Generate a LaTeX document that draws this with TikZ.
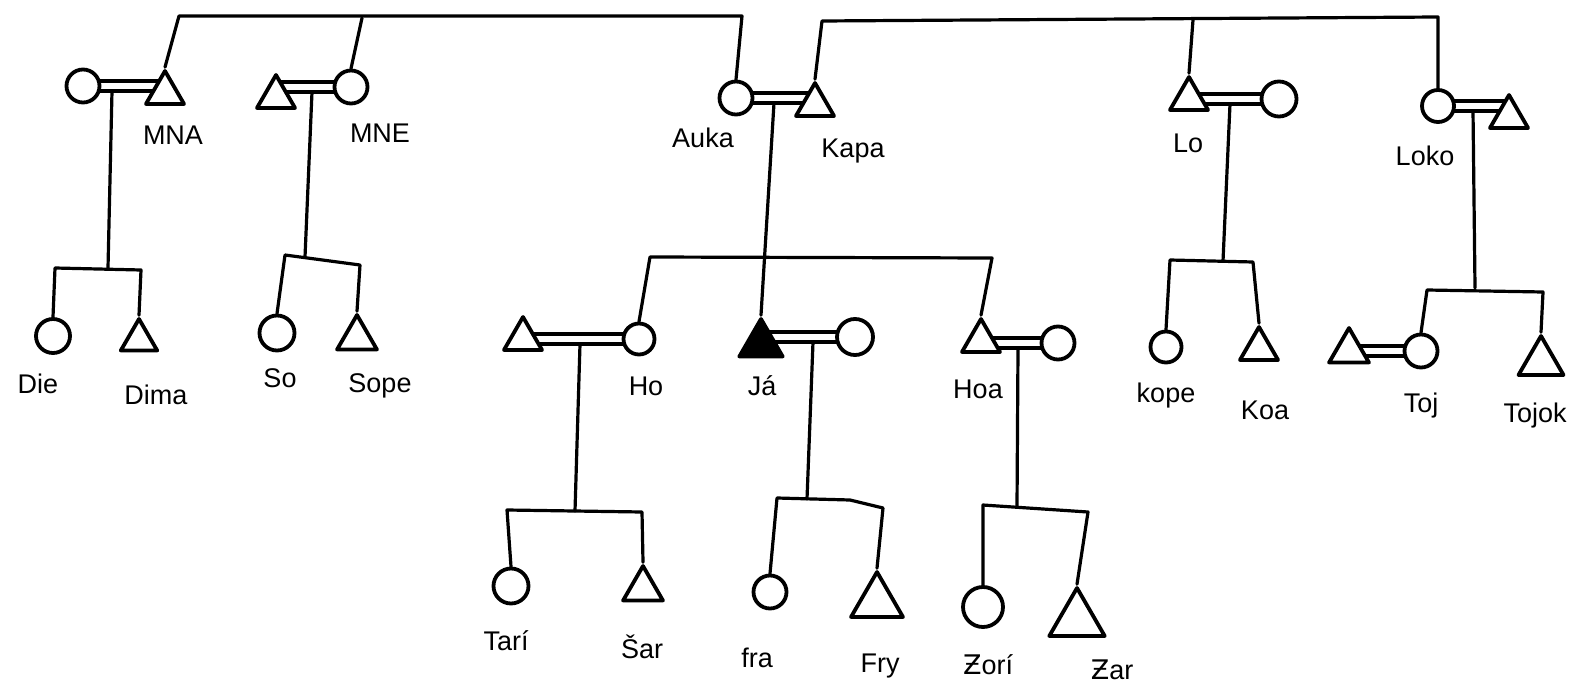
\documentclass[tikz,border=0pt]{standalone}
\usepackage{fontspec}
\setmainfont{Liberation Sans}
\newfontfamily\djv{DejaVu Sans}
\usetikzlibrary{shapes.geometric,calc,backgrounds}
\newcommand\Zs{{\djv Ƶ}}
\newcommand\marr[2]{%
  \draw[ln] ($(#1.center)+(0,-5)$) -- ($(#1.center -| #2.center)+(0,-5)$);
  \draw[ln] ($(#1.center)+(0,5)$) -- ($(#1.center -| #2.center)+(0,5)$);}
\tikzset{
  fem/.style={circle, draw, line width=3.8pt, fill=white, minimum size=#1, inner sep=0pt},
  fem/.default=33,
  male/.style={regular polygon, regular polygon sides=3, draw, line width=3.8pt, line join=round, fill=white, minimum size=#1, inner sep=0pt},
  male/.default=44,
  ego/.style={male=50, fill=black},
  lbl/.style={font=\fontsize{27}{29}\selectfont, inner sep=0pt, anchor=base},
  ln/.style={line width=3.2pt, line cap=round, line join=round}
}
\begin{document}
\begin{tikzpicture}[x=1pt,y=-1pt]
\useasboundingbox (0,0) rectangle (1573,687);
% row 1
\node[fem] (w1) at (83,86) {};
\node[male] (MNA) at (165,93) {};
\node[male] (h2) at (276,97) {};
\node[fem] (MNE) at (351,87) {};
\node[fem] (Auka) at (736,98) {};
\node[male] (Kapa) at (815,105) {};
\node[male] (Lo) at (1189,99) {};
\node[fem=35] (w4) at (1279,99) {};
\node[fem=32] (Loko) at (1438,106) {};
\node[male] (h5) at (1509,117) {};
% row 2
\node[fem=34] (Die) at (53,336) {};
\node[male=42] (Dima) at (139,340) {};
\node[fem=35] (So) at (277,333) {};
\node[male=46] (Sope) at (357,338) {};
\node[male=44] (h6) at (523,339) {};
\node[fem=31] (Ho) at (639,339) {};
\node[ego] (Ja) at (761,344) {};
\node[fem=36] (w7) at (855,337) {};
\node[male=44] (Hoa) at (981,341) {};
\node[fem=33] (w8) at (1058,343) {};
\node[fem=31] (kope) at (1166,347) {};
\node[male=44] (Koa) at (1259,349) {};
\node[male=46] (h9) at (1349,351) {};
\node[fem=33] (Toj) at (1421,351) {};
\node[male=52] (Tojok) at (1541,362) {};
% row 3
\node[fem=35] (Tari) at (511,586) {};
\node[male=46] (Sar) at (643,589) {};
\node[fem=33] (Fra) at (770,592) {};
\node[male=60] (Fry) at (877,602) {};
\node[fem=40] (Zori) at (983,607) {};
\node[male=64] (Zar) at (1077,620) {};
% labels
\node[lbl] (lMNA) at (173,145) {MNA};
\node[lbl] (lMNE) at (380,143) {MNE};
\node[lbl] (lAuka) at (703,148) {Auka};
\node[lbl] (lKapa) at (853,158) {Kapa};
\node[lbl] (lLo) at (1188,153) {Lo};
\node[lbl] (lLoko) at (1425,166) {Loko};
\node[lbl] (lDie) at (38,393) {Die};
\node[lbl] (lDima) at (156,404) {Dima};
\node[lbl] (lSo) at (280,387) {So};
\node[lbl] (lSope) at (380,392) {Sope};
\node[lbl] (lHo) at (646,395) {Ho};
\node[lbl] (lJa) at (762,395) {Já};
\node[lbl] (lHoa) at (978,398) {Hoa};
\node[lbl] (lkope) at (1166,402) {kope};
\node[lbl] (lKoa) at (1265,419) {Koa};
\node[lbl] (lToj) at (1421,412) {Toj};
\node[lbl] (lTojok) at (1535,422) {Tojok};
\node[lbl] (lTari) at (506,650) {Tarí};
\node[lbl] (lSar) at (642,658) {Šar};
\node[lbl] (lFra) at (757,667) {fra};
\node[lbl] (lFry) at (880,672) {Fry};
\node[lbl] (lZori) at (988,674) {\Zs orí};
\node[lbl] (lZar) at (1112,679) {\Zs ar};
% coordinates
\coordinate (t1L) at (179,16); \coordinate (t1R) at (742,16); \coordinate (t1m) at (362,18);
\coordinate (t2L) at (822,21); \coordinate (t2R) at (1438,17); \coordinate (t2m) at (1193,20);
\coordinate (d1) at (112,91); \coordinate (k1m) at (108,268); \coordinate (k1L) at (55,268); \coordinate (k1R) at (141,270);
\coordinate (d2) at (312,92); \coordinate (k2m) at (305,257); \coordinate (k2L) at (285,255); \coordinate (k2R) at (360,265);
\coordinate (d3) at (774,103);
\coordinate (mL) at (650,257); \coordinate (mR) at (992,258);
\coordinate (d4) at (1230,104); \coordinate (k4m) at (1223,261); \coordinate (k4L) at (1170,260); \coordinate (k4R) at (1253,262);
\coordinate (d5) at (1473,111); \coordinate (k5m) at (1475,288); \coordinate (k5L) at (1427,290); \coordinate (k5R) at (1543,292);
\coordinate (d6) at (580,344); \coordinate (k6m) at (575,511); \coordinate (k6L) at (507,510); \coordinate (k6R) at (642,512);
\coordinate (d7) at (813,342); \coordinate (k7m) at (807,499); \coordinate (k7L) at (777,498); \coordinate (k7b) at (850,500); \coordinate (k7R) at (883,508);
\coordinate (d8) at (1018,348); \coordinate (k8m) at (1017,506); \coordinate (k8L) at (983,505); \coordinate (k8R) at (1088,512);
\begin{pgfonlayer}{background}
% sibling lines at top
\draw[ln] (MNA.north) -- (t1L) -- (t1R) -- (Auka.north);
\draw[ln] (t1m) -- (MNE.north);
\draw[ln] (Kapa.north) -- (t2L) -- (t2R) -- (Loko.north);
\draw[ln] (t2m) -- (Lo.north);
% marriages
\marr{w1}{MNA}
\marr{MNE}{h2}
\marr{Auka}{Kapa}
\marr{w4}{Lo}
\marr{Loko}{h5}
\marr{Ho}{h6}
\marr{w7}{Ja}
\marr{w8}{Hoa}
\marr{Toj}{h9}
% descents and sibling bars
\draw[ln] (d1) -- (k1m);
\draw[ln] (Die.north) -- (k1L) -- (k1R) -- (Dima.north);
\draw[ln] (d2) -- (k2m);
\draw[ln] (So.north) -- (k2L) -- (k2R) -- (Sope.north);
\draw[ln] (d3) -- (Ja.north);
\draw[ln] (Ho.north) -- (mL) -- (mR) -- (Hoa.north);
\draw[ln] (d4) -- (k4m);
\draw[ln] (kope.north) -- (k4L) -- (k4R) -- (Koa.north);
\draw[ln] (d5) -- (k5m);
\draw[ln] (Toj.north) -- (k5L) -- (k5R) -- (Tojok.north);
\draw[ln] (d6) -- (k6m);
\draw[ln] (Tari.north) -- (k6L) -- (k6R) -- (Sar.north);
\draw[ln] (d7) -- (k7m);
\draw[ln] (Fra.north) -- (k7L) -- (k7b) -- (k7R) -- (Fry.north);
\draw[ln] (d8) -- (k8m);
\draw[ln] (Zori.north) -- (k8L) -- (k8R) -- (Zar.north);
\end{pgfonlayer}
\end{tikzpicture}
\end{document}
